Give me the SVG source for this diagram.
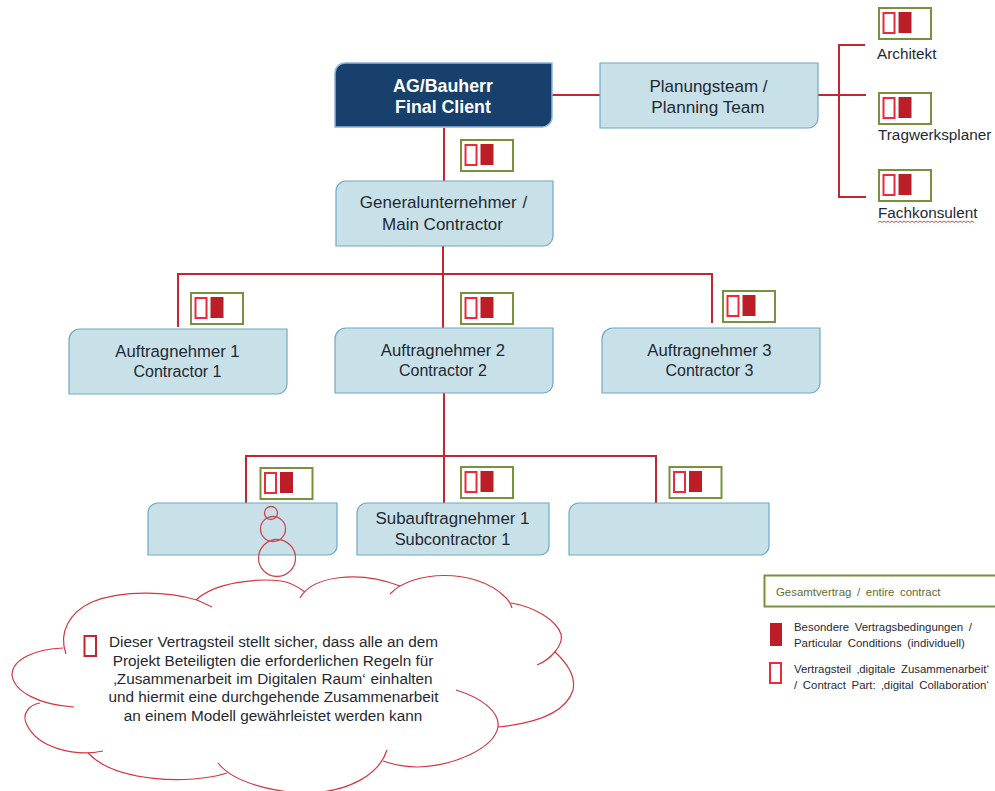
<svg xmlns="http://www.w3.org/2000/svg" width="995" height="791" viewBox="0 0 995 791">
<style>
text{font-family:"Liberation Sans",Arial,sans-serif;fill:#1f2933}
.c{text-anchor:middle}
.l17{font-size:17px}
.l16{font-size:16.7px}
.s15{font-size:16px}
.w{fill:#fff;font-weight:bold;font-size:17.800px}
.box{fill:#c8e0e8;stroke:#6fa9c2;stroke-width:1.2}
.ln{fill:none;stroke:#c1272d;stroke-width:2}
.cl{fill:none;stroke:#d4363f;stroke-width:1.2}
.bub{fill:none;stroke:#cb4a52;stroke-width:1.3}
.lab{font-size:15.300px}
.cloudt{font-size:15.300px}
.leg{font-size:11.400px;word-spacing:2.500px}
.hollow{fill:#fff;stroke:#ee2a3a;stroke-width:2}
.solid{fill:#bb1e26}
.frame{fill:#fff;stroke:#76923c;stroke-width:2}
</style>
<defs>
<g id="badge">
<rect class="frame" x="0" y="0" width="52" height="31"/>
<rect class="hollow" x="4.500" y="5" width="11" height="20"/>
<rect class="solid" x="19.500" y="4" width="13" height="21"/>
</g>
</defs>

<g id="connectors">
<path class="ln" d="M552 95H600"/>
<path class="ln" d="M444 128V181"/>
<path class="ln" d="M818 95H866M865 45H839V197H866"/>
<path class="ln" d="M443 246V328"/>
<path class="ln" d="M178 327V274H712V323"/>
<path class="ln" d="M444 393V503"/>
<path class="ln" d="M246 503V456H656V503"/>
</g>

<g id="node-client">
<path d="M345 63H552V117A10 10 0 0 1 542 127H335V73A10 10 0 0 1 345 63Z" fill="#17406d" stroke="#8fb4dc" stroke-width="1.500"/>
<text class="c w" x="443" y="92">AG/Bauherr</text>
<text class="c w" x="443" y="113">Final Client</text>
</g>
<g id="node-planning">
<path class="box" d="M600 63H818V118A10 10 0 0 1 808 128H600Z"/>
<text class="c l17" x="708.500" y="92">Planungsteam /</text>
<text class="c l17" x="708" y="113" style="font-size:17.200px">Planning Team</text>
</g>
<g id="node-main">
<path class="box" d="M346 181H553V236A10 10 0 0 1 543 246H336V191A10 10 0 0 1 346 181Z"/>
<text class="c l17" x="443.500" y="208" style="word-spacing:1px">Generalunternehmer /</text>
<text class="c l17" x="442.500" y="230">Main Contractor</text>
</g>
<g id="node-c1">
<path class="box" d="M80 329H287V384A10 10 0 0 1 277 394H69V340A11 11 0 0 1 80 329Z"/>
<text class="c l16" x="177.500" y="357">Auftragnehmer 1</text>
<text class="c s15" x="177.500" y="377">Contractor 1</text>
</g>
<g id="node-c2">
<path class="box" d="M346 328H553V383A10 10 0 0 1 543 393H335V339A11 11 0 0 1 346 328Z"/>
<text class="c l16" x="443" y="356">Auftragnehmer 2</text>
<text class="c s15" x="443" y="376">Contractor 2</text>
</g>
<g id="node-c3">
<path class="box" d="M613 328H820V383A10 10 0 0 1 810 393H602V339A11 11 0 0 1 613 328Z"/>
<text class="c l16" x="709.500" y="356">Auftragnehmer 3</text>
<text class="c s15" x="709.500" y="376">Contractor 3</text>
</g>
<g id="node-sub-left">
<path class="box" d="M158 503H337V546A9 9 0 0 1 328 555H148V513A10 10 0 0 1 158 503Z"/>
</g>
<g id="node-sub1">
<path class="box" d="M367 503H549V546A9 9 0 0 1 540 555H357V513A10 10 0 0 1 367 503Z"/>
<text class="c" x="452.500" y="524" style="font-size:16.900px">Subauftragnehmer 1</text>
<text class="c" x="452.500" y="545" style="font-size:16.400px">Subcontractor 1</text>
</g>
<g id="node-sub-right">
<path class="box" d="M579 503H769V546A9 9 0 0 1 760 555H569V513A10 10 0 0 1 579 503Z"/>
</g>

<g id="badges">
<use href="#badge" x="461" y="140"/>
<use href="#badge" x="879" y="8"/>
<use href="#badge" x="879" y="93"/>
<use href="#badge" x="879" y="170"/>
<use href="#badge" x="191" y="293"/>
<use href="#badge" x="461" y="293"/>
<use href="#badge" x="723" y="291"/>
<use href="#badge" x="260.500" y="468"/>
<use href="#badge" x="461" y="467"/>
<use href="#badge" x="669.500" y="467"/>
</g>

<g id="node-architekt"><text class="lab" x="877" y="59">Architekt</text></g>
<g id="node-tragwerk"><text class="lab" x="878" y="140">Tragwerksplaner</text></g>
<g id="node-fach">
<text class="lab" x="878" y="218">Fachkonsulent</text>
<path d="M878 222.500l2-1.500 2 1.500 2-1.500 2 1.500 2-1.500 2 1.500 2-1.500 2 1.500 2-1.500 2 1.500 2-1.500 2 1.500 2-1.500 2 1.500 2-1.500 2 1.500 2-1.500 2 1.500 2-1.500 2 1.500 2-1.500 2 1.500 2-1.500 2 1.500 2-1.500 2 1.500 2-1.500 2 1.500 2-1.500 2 1.500 2-1.500 2 1.500 2-1.500 2 1.500 2-1.500 2 1.500 2-1.500 2 1.500 2-1.500 2 1.500 2-1.500 2 1.500 2-1.500 2 1.500 2-1.500 2 1.500 2-1.500 2 1.500" fill="none" stroke="#d9343c" stroke-width="0.900"/>
</g>

<g id="callout">
<circle class="bub" cx="271" cy="513" r="6.500"/>
<circle class="bub" cx="273" cy="529" r="12.500"/>
<circle class="bub" cx="277" cy="558" r="18.500"/>
<path class="cl" d="M66 654C58 632 70 612 92 602C124 589 170 592 197 600L212 607"/>
<path class="cl" d="M196 600C215 582 258 578 281 581C288 582 297 586 305 592"/>
<path class="cl" d="M300 598C312 576 358 570 400 586"/>
<path class="cl" d="M390 594C412 570 475 568 504 596C509 600 511 604 512 608"/>
<path class="cl" d="M511 603C535 607 556 620 561 634C564 645 550 660 537 665"/>
<path class="cl" d="M555 652C568 664 576 676 573 690C565 716 528 724 498 727"/>
<path class="cl" d="M456 690C482 698 500 712 498 727C494 748 455 766 417 767C404 767 392 764 383 761"/>
<path class="cl" d="M387 750C378 778 345 789 322 792C290 796 236 786 218 763"/>
<path class="cl" d="M227 773C190 785 115 782 88 753"/>
<path class="cl" d="M103 751C75 757 38 748 27 725C21 714 29 705 40 703"/>
<path class="cl" d="M74 707C40 705 14 692 12 675C12 658 38 649 63 648"/>
<rect x="84.500" y="636" width="11.500" height="20" fill="none" stroke="#c1272d" stroke-width="2"/>
<text class="c cloudt" x="273.500" y="647">Dieser Vertragsteil stellt sicher, dass alle an dem</text>
<text class="c cloudt" x="273" y="666">Projekt Beteiligten die erforderlichen Regeln für</text>
<text class="c cloudt" x="273" y="684" style="word-spacing:0.500px">‚Zusammenarbeit im Digitalen Raum‘ einhalten</text>
<text class="c cloudt" x="273.500" y="702">und hiermit eine durchgehende Zusammenarbeit</text>
<text class="c cloudt" x="273" y="721">an einem Modell gewährleistet werden kann</text>
</g>

<g id="legend">
<rect x="764.500" y="575.500" width="240" height="31" fill="#fff" stroke="#76923c" stroke-width="2"/>
<text class="leg" x="776" y="596" style="fill:#5f6b32">Gesamtvertrag / entire contract</text>
<rect class="solid" x="770" y="623" width="12" height="23"/>
<text class="leg" x="794" y="631">Besondere Vertragsbedingungen /</text>
<text class="leg" x="794" y="647">Particular Conditions (individuell)</text>
<rect class="hollow" x="770" y="663" width="11" height="20"/>
<text class="leg" x="794" y="673">Vertragsteil ‚digitale Zusammenarbeit‘</text>
<text class="leg" x="794" y="689">/ Contract Part: ‚digital Collaboration‘</text>
</g>
</svg>
